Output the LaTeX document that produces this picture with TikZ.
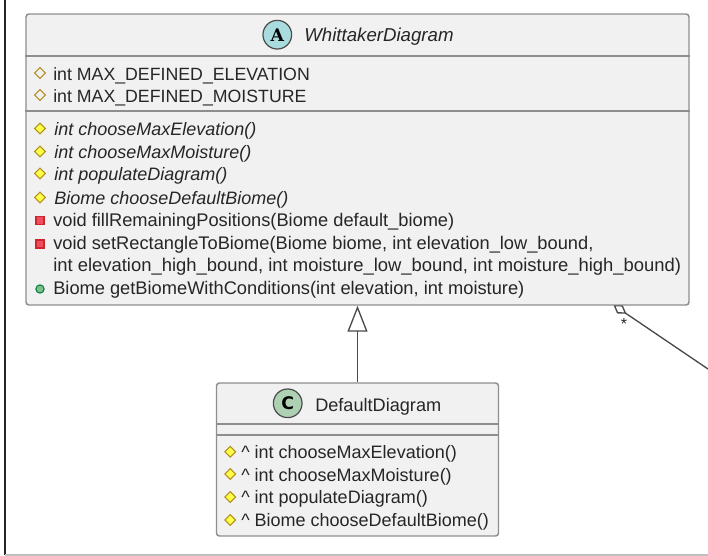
\documentclass[tikz,border=0pt]{standalone}
\usepackage{fontspec}
\setmainfont{Liberation Sans}
\newfontfamily\iconfont{DejaVu Serif}
\newfontfamily\iconsans{DejaVu Sans}
\usetikzlibrary{arrows.meta,shapes.geometric}
\definecolor{boxfill}{HTML}{F1F1F1}
\definecolor{boxline}{HTML}{8E8E8E}
\definecolor{linkline}{HTML}{4A4A4A}
\definecolor{protline}{HTML}{B38D22}
\definecolor{protfill}{HTML}{FFFF44}
\definecolor{privline}{HTML}{C82930}
\definecolor{privfill}{HTML}{F24D5C}
\definecolor{publine}{HTML}{038048}
\definecolor{pubfill}{HTML}{84BE84}
\definecolor{abstractfill}{HTML}{A9DCDF}
\definecolor{classfill}{HTML}{ADD1B2}
\tikzset{
  x=0.75pt,y=-0.75pt,
  classbox/.style={draw=boxline,fill=boxfill,line width=1.1pt,rounded corners=2.2pt,inner sep=0pt},
  sepline/.style={draw=boxline,line width=0.8pt},
  member/.style={anchor=base west,inner sep=0pt,font=\fontsize{13.7pt}{15pt}\selectfont,text=black!85},
  capsmember/.style={member,font=\fontsize{13.3pt}{15pt}\selectfont},
  submember/.style={member,font=\fontsize{13.5pt}{15pt}\selectfont},
  amember/.style={member,font=\fontsize{13.5pt}{15pt}\selectfont\itshape},
  titletext/.style={member,font=\fontsize{13.6pt}{15pt}\selectfont},
  protfield/.style={diamond,draw=protline,fill=boxfill,line width=0.8pt,inner sep=0pt,minimum size=8.4pt},
  protmeth/.style={diamond,draw=protline,fill=protfill,line width=0.8pt,inner sep=0pt,minimum size=8.4pt},
  privmeth/.style={rectangle,draw=privline,fill=privfill,line width=0.8pt,inner sep=0pt,minimum size=6pt},
  pubmeth/.style={circle,draw=publine,fill=pubfill,line width=0.8pt,inner sep=0pt,minimum size=6.2pt},
  badge/.style={circle,draw=linkline,line width=0.9pt,inner sep=0pt,minimum size=21.5pt,font=\iconfont\bfseries\fontsize{13pt}{13pt}\selectfont},
  link/.style={draw=linkline,line width=1pt},
}
\begin{document}
\begin{tikzpicture}
\useasboundingbox (0,0) rectangle (708,556);
% outer frame
\coordinate (frametop) at (5,0);
\coordinate (framecorner) at (5,555);
\coordinate (frameend) at (708,555);
\draw[black!85,line width=1.5pt] (frametop) -- (framecorner);
\draw[black!25,line width=0.9pt] (framecorner) -- (frameend);
% aggregation link, passing behind the class box
\coordinate (aggtip) at (613.5,305);
\coordinate (aggfree) at (708,369);
\draw[link,-{Diamond[open,length=15.5pt*0.75,width=10pt*0.75]}] (aggfree) -- (aggtip);
% classes
\node[classbox,minimum width=497.25pt,minimum height=218.25pt] (whittaker) at (357.5,159.5) {};
\node[classbox,minimum width=211.5pt,minimum height=114.75pt] (default) at (357.5,459.5) {};
\draw[sepline] (whittaker.west |- 0,56) -- (whittaker.east |- 0,56);
\draw[sepline] (whittaker.west |- 0,111) -- (whittaker.east |- 0,111);
\draw[sepline] (default.west |- 0,424) -- (default.east |- 0,424);
\draw[sepline] (default.west |- 0,435) -- (default.east |- 0,435);
% generalization
\draw[link,-{Triangle[open,length=19.5pt,width=15pt]}] (default.north) -- (whittaker.south);
% multiplicity
\node[member,anchor=base,font=\fontsize{12pt}{12pt}\selectfont] (aggstar) at (624,329.5) {*};
% WhittakerDiagram
\node[badge,fill=abstractfill] (wbadge) at (277.3,34.7) {A};
\node[titletext,font=\fontsize{14pt}{15pt}\selectfont\itshape] (wtitle) at (304,42) {WhittakerDiagram};
\node[protfield] (wi1) at (40,73) {};
\node[capsmember] (wt1) at (53,81) {int MAX\_DEFINED\_ELEVATION};
\node[protfield] (wi2) at (40,95) {};
\node[capsmember] (wt2) at (53,103) {int MAX\_DEFINED\_MOISTURE};
\node[protmeth] (wi3) at (40,128.5) {};
\node[amember] (wt3) at (54,136) {int chooseMaxElevation()};
\node[protmeth] (wi4) at (40,151.5) {};
\node[amember] (wt4) at (54,158.5) {int chooseMaxMoisture()};
\node[protmeth] (wi5) at (40,173.5) {};
\node[amember] (wt5) at (54,181) {int populateDiagram()};
\node[protmeth] (wi6) at (40,197.5) {};
\node[amember] (wt6) at (54,205) {Biome chooseDefaultBiome()};
\node[privmeth] (wi7) at (40,220.5) {};
\node[member] (wt7) at (53,226.5) {void fillRemainingPositions(Biome default\_biome)};
\node[privmeth] (wi8) at (40,244) {};
\node[member] (wt8) at (53,249.5) {void setRectangleToBiome(Biome biome, int elevation\_low\_bound,};
\node[member,font=\fontsize{13.82pt}{15pt}\selectfont] (wt9) at (53,272) {int elevation\_high\_bound, int moisture\_low\_bound, int moisture\_high\_bound)};
\node[pubmeth] (wi10) at (40,289) {};
\node[member] (wt10) at (53,295) {Biome getBiomeWithConditions(int elevation, int moisture)};
% DefaultDiagram
\node[badge,fill=classfill,font=\iconsans\bfseries\fontsize{13pt}{13pt}\selectfont] (dbadge) at (287.7,403.3) {C};
\node[titletext] (dtitle) at (315,411.2) {DefaultDiagram};
\node[protmeth] (di1) at (230.3,451.7) {};
\node[submember] (dt1) at (241,459) {\^{} int chooseMaxElevation()};
\node[protmeth] (di2) at (230.3,474) {};
\node[submember] (dt2) at (241,481) {\^{} int chooseMaxMoisture()};
\node[protmeth] (di3) at (230.3,497) {};
\node[submember] (dt3) at (241,503.5) {\^{} int populateDiagram()};
\node[protmeth] (di4) at (230.3,520) {};
\node[submember] (dt4) at (241,527) {\^{} Biome chooseDefaultBiome()};
\end{tikzpicture}
\end{document}
